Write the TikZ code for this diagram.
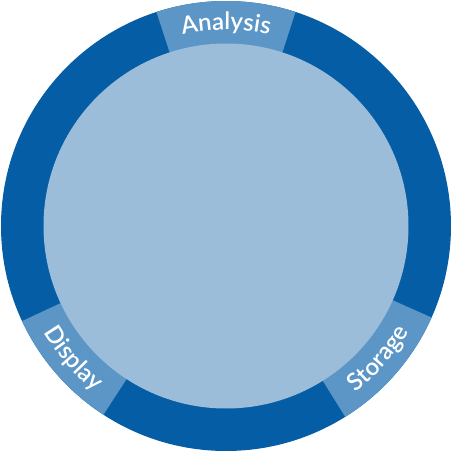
\documentclass[tikz,border=0pt]{standalone}
\usepackage{fontspec}
\setmainfont{Lato}
\newfontfamily\lblfont{Lato Semibold}
\usetikzlibrary{decorations.text}
\definecolor{ringdark}{RGB}{5,94,165}
\definecolor{ringlight}{RGB}{92,150,199}
\definecolor{core}{RGB}{155,189,218}
\begin{document}
\begin{tikzpicture}[x=1pt,y=1pt,
  arclabel/.style={decorate,decoration={text along path,text align=center,text color=white,
    text={|\lblfont\fontsize{24}{24}\selectfont|#1}}}]
  \def\Ro{225}
  \def\Ri{182.5}
  \useasboundingbox (-226,-227) rectangle (226,226);
  \fill[ringdark] (0,0) circle (\Ro);
  \foreach \a/\b in {72/108,-58/-24,205/237}
    \fill[ringlight] (0,0) -- (\a:\Ro) arc (\a:\b:\Ro) -- cycle;
  \fill[core] (0,0) circle (\Ri);
  % labels on the ring
  \path[arclabel=Analysis] (115:196) arc (115:65:196);
  \path[arclabel=Storage] (-66:211) arc (-66:-16:211);
  \path[arclabel=Display] (196:211) arc (196:246:211);
\end{tikzpicture}
\end{document}
